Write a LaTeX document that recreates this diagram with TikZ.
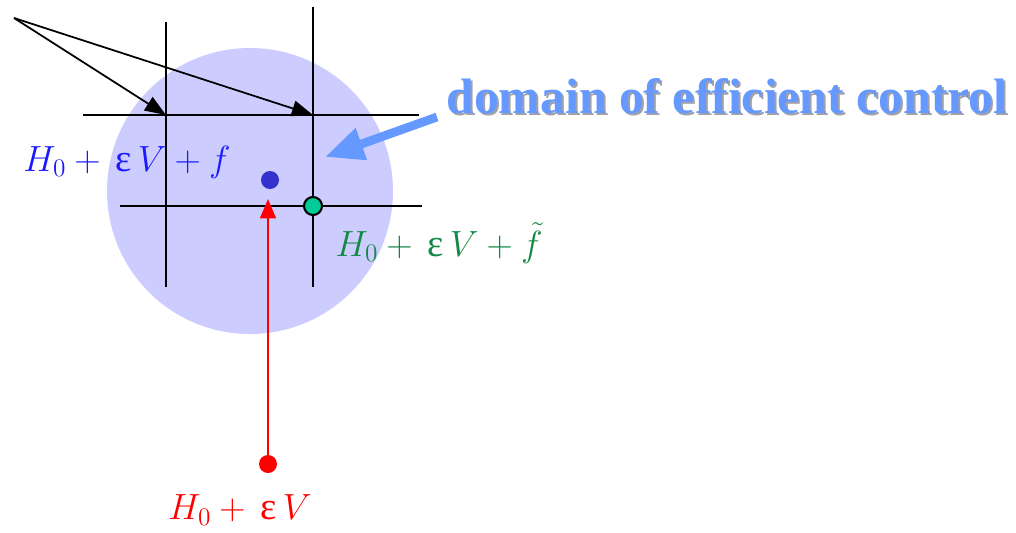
\documentclass[tikz,border=0pt]{standalone}
\usepackage{amsmath,amssymb}
\usepackage{fontspec}
\setmainfont{Liberation Serif}
\usetikzlibrary{arrows.meta}
\definecolor{domainfill}{HTML}{CCCCFF}
\definecolor{labelblue}{HTML}{1A1AFF}
\definecolor{labelgreen}{HTML}{118844}
\definecolor{dotgreen}{HTML}{00CC99}
\definecolor{dotblue}{HTML}{3333CC}
\definecolor{ctrlblue}{HTML}{6699FF}
\definecolor{ctrlshade}{HTML}{A0A0A8}
\newcommand{\eps}{\text{\,ε\,}}
\tikzset{
  gridline/.style={black,line width=1.1pt},
  pointer/.style={black,line width=1pt,-{Triangle[length=12pt,width=9pt]}},
  mathlabel/.style={font=\fontsize{22}{26}\selectfont,inner sep=0pt},
  ctrltext/.style={font=\fontsize{28.3}{32}\selectfont\bfseries,inner sep=0pt}
}

\begin{document}
\begin{tikzpicture}[x=0.02cm,y=-0.02cm]
    \useasboundingbox (0,0) rectangle (1016,532);

    % Domaine de controle
    \fill[domainfill] (250,191) circle (143);

    % Grille
    \coordinate (v1top) at (166,22);   \coordinate (v1bot) at (166,287);
    \coordinate (v2top) at (313,7);    \coordinate (v2bot) at (313,287);
    \coordinate (h1left) at (83,115);  \coordinate (h1right) at (419,115);
    \coordinate (h2left) at (120,206); \coordinate (h2right) at (422,206);
    \draw[gridline] (v1top) -- (v1bot);
    \draw[gridline] (v2top) -- (v2bot);
    \draw[gridline] (h1left) -- (h1right);
    \draw[gridline] (h2left) -- (h2right);

    % Fleches vers les noeuds de la grille
    \coordinate (src) at (14,18);
    \coordinate (cross1) at (166,115);
    \coordinate (cross2) at (313,115);
    \draw[pointer] (src) -- (cross1);
    \draw[pointer] (src) -- (cross2);

    % Points
    \coordinate (pf) at (270,180);
    \coordinate (pft) at (313,206);
    \coordinate (p0) at (268,464);
    \coordinate (p0tip) at (268,199);
    \fill[dotblue] (pf) circle (9);
    \draw[red,line width=1.2pt,-{Triangle[length=11pt,width=9pt]}] (p0) -- (p0tip);
    \fill[red] (p0) circle (9);
    \filldraw[fill=dotgreen,draw=black,line width=1.2pt] (pft) circle (9);

    % Etiquettes
    \node[mathlabel,labelblue] (lf) at (127,162) {$H_0+\eps V+f$};
    \node[mathlabel,labelgreen] (lft) at (439,243) {$H_0+\eps V+\tilde{f}$};
    \node[mathlabel,red] (l0) at (240,510) {$H_0+\eps V$};

    % Domaine efficace (avec ombre)
    \node[ctrltext,ctrlshade] (ctrlshadow) at (729,98) {domain of efficient control};
    \node[ctrltext,ctrlblue] (ctrl) at (727,96) {domain of efficient control};
    \coordinate (ctrlstart) at (437,117);
    \coordinate (ctrltip) at (325,157);
    \draw[ctrlblue,line width=5pt,-{Triangle[length=22pt,width=18pt]}]
      (ctrlstart) -- (ctrltip);

  \end{tikzpicture}
\end{document}
